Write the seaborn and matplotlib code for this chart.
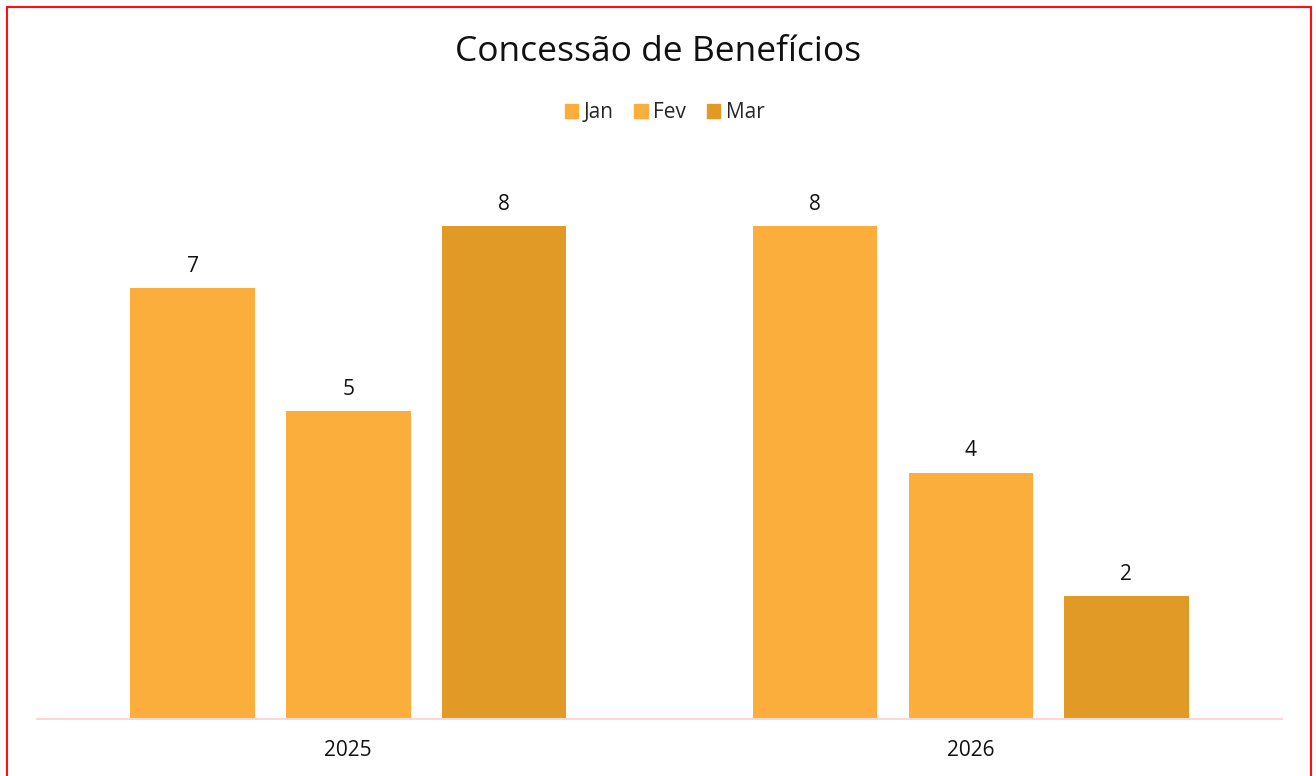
import matplotlib
matplotlib.use("Agg")
import matplotlib.pyplot as plt
from matplotlib.patches import Rectangle
import seaborn as sns
import pandas as pd

years = ["2025", "2026"]
months = ["Jan", "Fev", "Mar"]
values_2025 = [7, 5, 8]
values_2026 = [8, 4, 2]
colors = ["#FBAE3B", "#FBAE3B", "#E29A27"]

rows = []
for y, vals in zip(years, [values_2025, values_2026]):
    for m, v in zip(months, vals):
        rows.append({"Ano": y, "Mes": m, "Valor": v})
df = pd.DataFrame(rows)

sns.set_theme(style="white")
plt.rcParams['font.family'] = ['Open Sans', 'DejaVu Sans']

fig = plt.figure(figsize=(13.16, 7.76), dpi=100)
ax = fig.add_axes([37/1316, 1 - 719/776, (1282-37)/1316, (719-164.5)/776])

sns.barplot(data=df, x="Ano", y="Valor", hue="Mes", hue_order=months,
            palette=colors, width=0.75, gap=0.2, ax=ax, legend=False,
            saturation=1, errorbar=None, linewidth=0)

for c in ax.containers:
    ax.bar_label(c, padding=8, fontsize=15, color="#111111")

ax.set_ylim(0, 9)
ax.set_xlim(-0.5, 1.5)
ax.set_xlabel("")
ax.set_ylabel("")
ax.set_yticks([])
for s in ["top", "right", "left"]:
    ax.spines[s].set_visible(False)
ax.spines["bottom"].set_color("#FFD6D6")
ax.spines["bottom"].set_linewidth(1.5)
ax.tick_params(axis="x", length=0, labelsize=15, pad=15, colors="#111111")

fig.text(0.5, 1 - 52/776, "Concessão de Benefícios", ha="center", va="center",
         fontsize=25.5, color="#111111")

handles = [Rectangle((0, 0), 1, 1, color=c) for c in colors]
fig.legend(handles, months, loc="center", bbox_to_anchor=(0.505, 1 - 113/776),
           ncol=3, frameon=False, fontsize=15, handlelength=0.65, handleheight=0.65,
           handletextpad=0.25, columnspacing=1.0)

fig.patches.append(Rectangle((6.5/1316, -0.05), (1311-6.5)/1316, 1.05 - 7.5/776,
                             transform=fig.transFigure, fill=False,
                             edgecolor="#FF1010", linewidth=1.5, zorder=10))

fig.savefig("out.png", dpi=100)
